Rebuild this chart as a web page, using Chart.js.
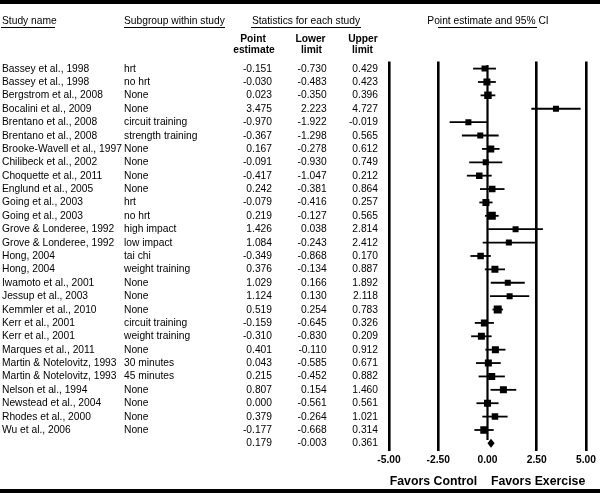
<!DOCTYPE html>
<html>
<head>
<meta charset="utf-8">
<script src="https://cdn.jsdelivr.net/npm/chart.js@4/dist/chart.umd.min.js"></script>
<style>
  html, body { margin: 0; padding: 0; background: #fff; }
  #wrap { position: relative; width: 600px; height: 493px; overflow: hidden; background: #fff; }
  #c { position: absolute; left: 0; top: 0; }
  .t { position: absolute; white-space: nowrap; font-family: 'Liberation Sans', Arial, sans-serif;
       font-size: 10.25px; line-height: 12px; color: #000; }
  .b { font-weight: bold; }
  .bar { position: absolute; left: 0; width: 600px; background: #000; }
  .rule { position: absolute; height: 1px; background: #000; }
</style>
</head>
<body>
<div id="wrap">
  <canvas id="c" width="600" height="493"></canvas>
  <div class="bar" style="top:0;height:4px"></div>
  <div class="bar" style="top:489px;height:4px"></div>
</div>
<script>
// ---------- data ----------
const studies = [
  'Bassey et al., 1998', 'Bassey et al., 1998', 'Bergstrom et al., 2008', 'Bocalini et al., 2009',
  'Brentano et al., 2008', 'Brentano et al., 2008', 'Brooke-Wavell et al., 1997', 'Chilibeck et al., 2002',
  'Choquette et al., 2011', 'Englund et al., 2005', 'Going et al., 2003', 'Going et al., 2003',
  'Grove & Londeree, 1992', 'Grove & Londeree, 1992', 'Hong, 2004', 'Hong, 2004',
  'Iwamoto et al., 2001', 'Jessup et al., 2003', 'Kemmler et al., 2010', 'Kerr et al., 2001',
  'Kerr et al., 2001', 'Marques et al., 2011', 'Martin & Notelovitz, 1993', 'Martin & Notelovitz, 1993',
  'Nelson et al., 1994', 'Newstead et al., 2004', 'Rhodes et al., 2000', 'Wu et al., 2006'
];
const subgroups = [
  'hrt', 'no hrt', 'None', 'None', 'circuit training', 'strength training', 'None', 'None',
  'None', 'None', 'hrt', 'no hrt', 'high impact', 'low impact', 'tai chi', 'weight training',
  'None', 'None', 'None', 'circuit training', 'weight training', 'None', '30 minutes', '45 minutes',
  'None', 'None', 'None', 'None'
];
const pointEst = [
  -0.151, -0.030, 0.023, 3.475, -0.970, -0.367, 0.167, -0.091, -0.417, 0.242, -0.079, 0.219,
  1.426, 1.084, -0.349, 0.376, 1.029, 1.124, 0.519, -0.159, -0.310, 0.401, 0.043, 0.215,
  0.807, 0.000, 0.379, -0.177
];
const lowerLim = [
  -0.730, -0.483, -0.350, 2.223, -1.922, -1.298, -0.278, -0.930, -1.047, -0.381, -0.416, -0.127,
  0.038, -0.243, -0.868, -0.134, 0.166, 0.130, 0.254, -0.645, -0.830, -0.110, -0.585, -0.452,
  0.154, -0.561, -0.264, -0.668
];
const upperLim = [
  0.429, 0.423, 0.396, 4.727, -0.019, 0.565, 0.612, 0.749, 0.212, 0.864, 0.257, 0.565,
  2.814, 2.412, 0.170, 0.887, 1.892, 2.118, 0.783, 0.326, 0.209, 0.912, 0.671, 0.882,
  1.460, 0.561, 1.021, 0.314
];
const summaryEst = 0.179;
const summaryLower = -0.003;
const summaryUpper = 0.361;
const xTicks = [-5, -2.5, 0, 2.5, 5];
const xTickLabels = ['-5.00', '-2.50', '0.00', '2.50', '5.00'];

// ---------- styles ----------
const markerSide = [6, 7, 7.5, 6, 6, 6, 7, 6, 6.5, 6.5, 7, 8, 6, 6, 6.5, 7, 6, 6, 8, 7, 7, 7, 7, 7, 7, 7, 6.5, 7.5];
const FONT = "'Liberation Sans', Arial, sans-serif";
const summaryRow = studies.length;

Chart.defaults.font.family = FONT;
Chart.defaults.color = '#000';

const whiskerPlugin = {
  id: 'whiskers',
  beforeDatasetsDraw(chart) {
    const {ctx, scales: {x, y}} = chart;
    ctx.save();
    ctx.strokeStyle = '#000';
    ctx.lineWidth = 1.8;
    for (let i = 0; i < pointEst.length; i++) {
      const py = y.getPixelForValue(i);
      ctx.beginPath();
      ctx.moveTo(x.getPixelForValue(lowerLim[i]), py);
      ctx.lineTo(x.getPixelForValue(upperLim[i]), py);
      ctx.stroke();
    }
    ctx.restore();
  },
  afterDatasetsDraw(chart) {
    const {ctx, scales: {x, y}} = chart;
    const py = y.getPixelForValue(summaryRow);
    const h = 4.5;
    ctx.save();
    ctx.fillStyle = '#000';
    ctx.beginPath();
    ctx.moveTo(x.getPixelForValue(summaryLower), py);
    ctx.lineTo(x.getPixelForValue(summaryEst), py - h);
    ctx.lineTo(x.getPixelForValue(summaryUpper), py);
    ctx.lineTo(x.getPixelForValue(summaryEst), py + h);
    ctx.closePath();
    ctx.fill();
    ctx.restore();
  }
};

const chart = new Chart(document.getElementById('c'), {
  type: 'scatter',
  data: {
    datasets: [
      {
        type: 'line',
        data: [{x: 0, y: -0.27}, {x: 0, y: 27.75}],
        borderColor: '#000',
        borderWidth: 2.2,
        pointRadius: 0
      },
      {
        data: pointEst.map((v, i) => ({x: v, y: i})),
        pointStyle: 'rect',
        pointRadius: ctx => markerSide[ctx.dataIndex] / (2 * Math.SQRT1_2),
        backgroundColor: '#000',
        borderWidth: 0
      }
    ]
  },
  options: {
    responsive: false,
    animation: false,
    events: [],
    layout: { padding: { left: 389, right: 14, top: 61.5, bottom: 0 } },
    plugins: { legend: { display: false }, tooltip: { enabled: false } },
    scales: {
      x: {
        type: 'linear',
        min: -5, max: 5,
        afterBuildTicks: s => { s.ticks = xTicks.map(v => ({value: v})); },
        afterFit: s => { s.height = 42; },
        ticks: {
          callback: v => xTickLabels[xTicks.indexOf(v)],
          font: { size: 10.25, weight: 'bold' },
          color: '#000',
          padding: 3,
          maxRotation: 0
        },
        grid: {
          drawTicks: false,
          color: c => (c.tick && c.tick.value === 0) ? 'rgba(0,0,0,0)' : '#000',
          lineWidth: 2.6
        },
        border: { display: false },
        title: {
          display: true,
          text: 'Favors Control    Favors Exercise',
          font: { size: 12.3, weight: 'bold' },
          color: '#000',
          padding: { top: 0, bottom: 4 }
        }
      },
      y: {
        type: 'linear',
        display: false,
        reverse: true,
        min: -0.53, max: 28.57
      }
    }
  },
  plugins: [whiskerPlugin]
});

// ---------- table text (real HTML text) ----------
const wrap = document.getElementById('wrap');
function txt(s, x, y, align, cls) {
  const d = document.createElement('div');
  d.className = 't ' + (cls || '');
  d.textContent = s;
  d.style.left = x + 'px';
  d.style.top = y + 'px';
  const tx = align === 'right' ? '-100%' : align === 'center' ? '-50%' : '0';
  d.style.transform = 'translate(' + tx + ',-50%)';
  wrap.appendChild(d);
}
function rule(x1, x2, y) {
  const d = document.createElement('div');
  d.className = 'rule';
  d.style.left = x1 + 'px';
  d.style.width = (x2 - x1) + 'px';
  d.style.top = y + 'px';
  wrap.appendChild(d);
}

// headers
txt('Study name', 2, 20.7, 'left');
txt('Subgroup within study', 124, 20.7, 'left');
txt('Statistics for each study', 306, 20.7, 'center');
txt('Point estimate and 95% CI', 488, 20.7, 'center');
rule(1, 55, 27);
rule(124, 225, 27);
rule(251, 361, 27);
rule(438, 537, 27);
txt('Point', 253, 38.5, 'center', 'b');
txt('estimate', 254, 50.3, 'center', 'b');
txt('Lower', 310.5, 38.5, 'center', 'b');
txt('limit', 311.5, 50.3, 'center', 'b');
txt('Upper', 363, 38.5, 'center', 'b');
txt('limit', 362.5, 50.3, 'center', 'b');

const yS = chart.scales.y;
for (let i = 0; i < studies.length; i++) {
  const py = yS.getPixelForValue(i);
  txt(studies[i], 2, py, 'left');
  txt(subgroups[i], 124, py, 'left');
  txt(pointEst[i].toFixed(3), 272, py, 'right');
  txt(lowerLim[i].toFixed(3), 326.7, py, 'right');
  txt(upperLim[i].toFixed(3), 378, py, 'right');
}
const ps = yS.getPixelForValue(summaryRow);
txt(summaryEst.toFixed(3), 272, ps, 'right');
txt(summaryLower.toFixed(3), 326.7, ps, 'right');
txt(summaryUpper.toFixed(3), 378, ps, 'right');
</script>
</body>
</html>
